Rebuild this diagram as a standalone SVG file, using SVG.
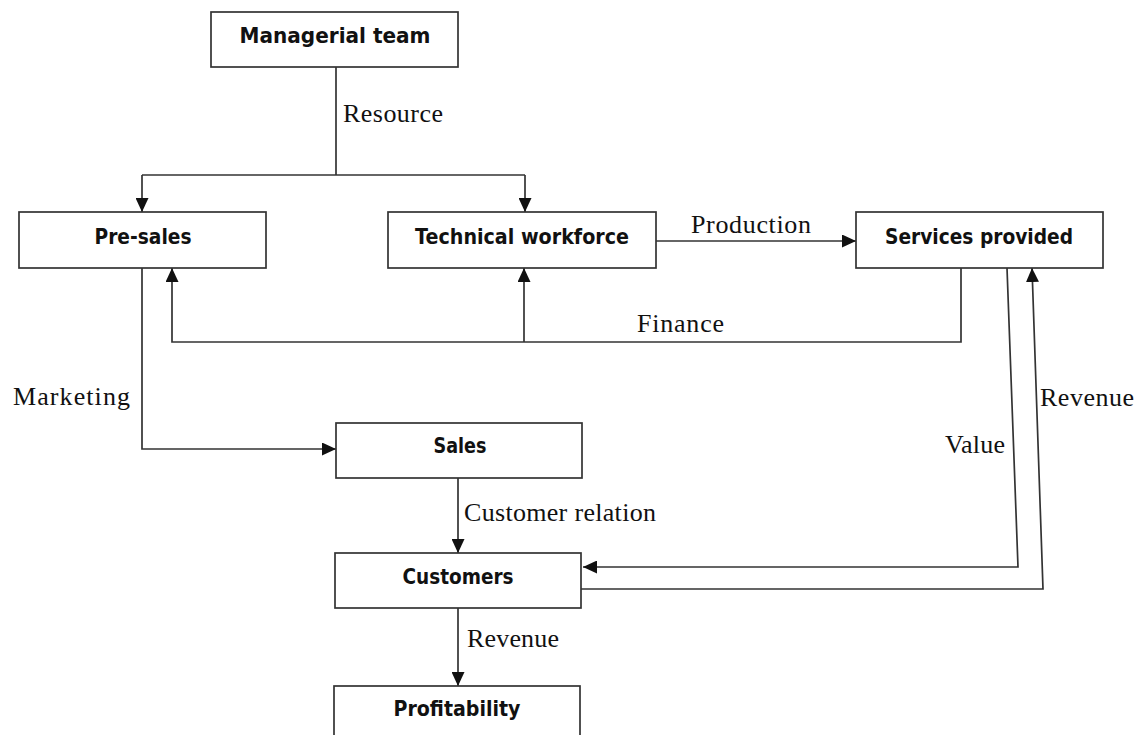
<svg xmlns="http://www.w3.org/2000/svg" width="1139" height="735" viewBox="0 0 1139 735">
  <style>
    .box { fill: #ffffff; stroke: #333333; stroke-width: 1.7; }
    .node-text { font-family: "DejaVu Sans", "Liberation Sans", sans-serif; font-weight: bold; font-size: 21px; fill: #111111; text-anchor: middle; }
    .edge { fill: none; stroke: #333333; stroke-width: 1.7; }
    .edge-label { font-family: "Liberation Serif", "DejaVu Serif", serif; font-size: 26px; fill: #111111; }
  </style>
  <defs>
    <marker id="arrow" markerWidth="14" markerHeight="13" refX="14" refY="6.5" orient="auto" markerUnits="userSpaceOnUse">
      <path d="M0,0 L14,6.5 L0,13 z" fill="#111111"/>
    </marker>
  </defs>
  <rect width="1139" height="735" fill="#ffffff"/>

  <!-- connectors -->
  <g id="connectors">
    <!-- resource split from the managerial team -->
    <path class="edge" d="M336,67 V175"/>
    <path class="edge" d="M142,175 H525"/>
    <path class="edge" d="M142,175 V212" marker-end="url(#arrow)"/>
    <path class="edge" d="M525,175 V212" marker-end="url(#arrow)"/>
    <!-- production -->
    <path class="edge" d="M656,241 H856" marker-end="url(#arrow)"/>
    <!-- finance loop -->
    <path class="edge" d="M961,268 V342 H172 V268" marker-end="url(#arrow)"/>
    <path class="edge" d="M524,342 V268" marker-end="url(#arrow)"/>
    <!-- marketing -->
    <path class="edge" d="M142,268 V449 H336" marker-end="url(#arrow)"/>
    <!-- customer relation -->
    <path class="edge" d="M458,478 V553" marker-end="url(#arrow)"/>
    <!-- value -->
    <path class="edge" d="M1007,268 L1018,567 H583" marker-end="url(#arrow)"/>
    <!-- revenue back to services -->
    <path class="edge" d="M581,589 H1043 L1032,268" marker-end="url(#arrow)"/>
    <!-- revenue to profitability -->
    <path class="edge" d="M458,608 V686" marker-end="url(#arrow)"/>

    <text class="edge-label" x="343" y="122" textLength="100">Resource</text>
    <text class="edge-label" x="691" y="233" textLength="120">Production</text>
    <text class="edge-label" x="637" y="332" textLength="87">Finance</text>
    <text class="edge-label" x="13" y="405" textLength="117">Marketing</text>
    <text class="edge-label" x="945" y="453" textLength="60">Value</text>
    <text class="edge-label" x="1040" y="406" textLength="94">Revenue</text>
    <text class="edge-label" x="464" y="521" textLength="192">Customer relation</text>
    <text class="edge-label" x="467" y="647" textLength="92">Revenue</text>
  </g>

  <g id="managerial-team">
    <rect class="box" x="211" y="12" width="247" height="55"/>
    <text class="node-text" x="335" y="43" textLength="191" lengthAdjust="spacingAndGlyphs">Managerial team</text>
  </g>
  <g id="pre-sales">
    <rect class="box" x="19" y="212" width="247" height="56"/>
    <text class="node-text" x="143" y="244" textLength="97" lengthAdjust="spacingAndGlyphs">Pre-sales</text>
  </g>
  <g id="technical-workforce">
    <rect class="box" x="388" y="212" width="268" height="56"/>
    <text class="node-text" x="522" y="244" textLength="214" lengthAdjust="spacingAndGlyphs">Technical workforce</text>
  </g>
  <g id="services-provided">
    <rect class="box" x="856" y="212" width="247" height="56"/>
    <text class="node-text" x="979" y="244" textLength="188" lengthAdjust="spacingAndGlyphs">Services provided</text>
  </g>
  <g id="sales">
    <rect class="box" x="336" y="423" width="246" height="55"/>
    <text class="node-text" x="460" y="453" textLength="53" lengthAdjust="spacingAndGlyphs">Sales</text>
  </g>
  <g id="customers">
    <rect class="box" x="335" y="553" width="246" height="55"/>
    <text class="node-text" x="458" y="584" textLength="111" lengthAdjust="spacingAndGlyphs">Customers</text>
  </g>
  <g id="profitability">
    <rect class="box" x="334" y="686" width="246" height="60"/>
    <text class="node-text" x="457" y="716" textLength="127" lengthAdjust="spacingAndGlyphs">Profitability</text>
  </g>
</svg>
